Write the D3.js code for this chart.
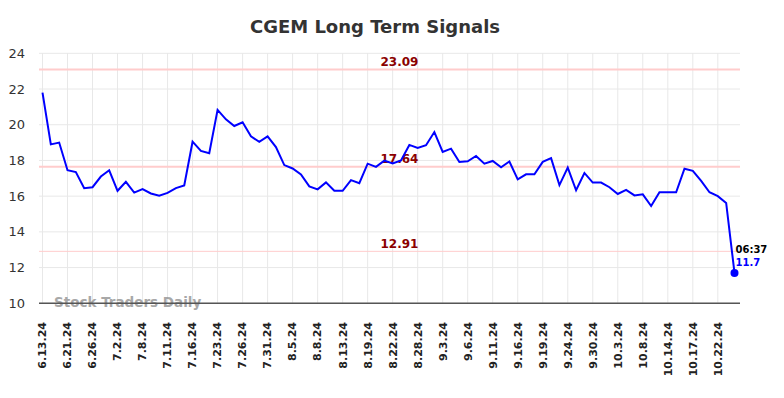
<!DOCTYPE html>
<html>
<head>
<meta charset="utf-8">
<script src="https://cdn.jsdelivr.net/npm/d3@7"></script>
<style>
  body { margin: 0; background: #fff; }
  svg { display: block; font-family: "DejaVu Sans", sans-serif; }
</style>
</head>
<body>
<svg id="chart" width="784" height="398"></svg>
<script>
// Tick labels (one every 3 trading days)
const tickLabels = ["6.13.24","6.21.24","6.26.24","7.2.24","7.8.24","7.11.24","7.16.24","7.23.24",
  "7.26.24","7.31.24","8.5.24","8.8.24","8.13.24","8.19.24","8.22.24","8.28.24","9.3.24","9.6.24",
  "9.11.24","9.16.24","9.19.24","9.24.24","9.30.24","10.3.24","10.8.24","10.14.24","10.17.24","10.22.24"];

// Closing prices, one per trading day
const prices = [21.8, 18.9, 19.0, 17.45, 17.35, 16.45, 16.5, 17.1, 17.45, 16.3,
  16.8, 16.2, 16.4, 16.15, 16.03, 16.18, 16.45, 16.6, 19.05, 18.53,
  18.4, 20.83, 20.3, 19.93, 20.14, 19.35, 19.04, 19.35, 18.75, 17.74,
  17.55, 17.22, 16.55, 16.38, 16.77, 16.3, 16.3, 16.9, 16.73, 17.82,
  17.64, 17.99, 17.83, 18.0, 18.87, 18.7, 18.85, 19.59, 18.48, 18.66,
  17.91, 17.95, 18.25, 17.82, 17.97, 17.62, 17.94, 16.94, 17.22, 17.22,
  17.92, 18.13, 16.62, 17.6, 16.33, 17.3, 16.76, 16.76, 16.5, 16.12,
  16.35, 16.04, 16.1, 15.45, 16.22, 16.22, 16.22, 17.54, 17.42, 16.85,
  16.22, 16.0, 15.62, 11.7];

// Signal levels
const levels = [23.09, 17.64, 12.91];
const levelWidths = [2, 2, 1];

const yTicks = [10, 12, 14, 16, 18, 20, 22, 24];
const lastTime = "06:37";

let svg = d3.select("#chart");

let x = d3.scaleLinear().domain([0, prices.length - 1]).range([42.5, 734.5]);
let y = d3.scaleLinear().domain([10, 24]).range([303.3, 53.3]);

// Title
svg.append("text")
  .attr("x", 375).attr("y", 33)
  .attr("text-anchor", "middle")
  .style("font-size", "18px").style("font-weight", "bold").style("fill", "#333")
  .text("CGEM Long Term Signals");

// Grid
svg.append("g").selectAll("line")
  .data(yTicks).enter()
  .append("line")
  .attr("x1", 39).attr("x2", 740)
  .attr("y1", (d) => y(d)).attr("y2", (d) => y(d))
  .style("stroke", "#e8e8e8").style("stroke-width", 1);

svg.append("g").selectAll("line")
  .data(tickLabels).enter()
  .append("line")
  .attr("x1", (d, i) => x(i * 3)).attr("x2", (d, i) => x(i * 3))
  .attr("y1", 53).attr("y2", 303)
  .style("stroke", "#e8e8e8").style("stroke-width", 1);

// Y labels
svg.append("g").selectAll("text")
  .data(yTicks).enter()
  .append("text")
  .attr("x", 25).attr("y", (d) => y(d))
  .attr("dy", "0.35em")
  .attr("text-anchor", "end")
  .style("font-size", "13px").style("fill", "#333")
  .text((d) => d);

// X labels
svg.append("g").selectAll("text")
  .data(tickLabels).enter()
  .append("text")
  .attr("transform", (d, i) => `translate(${x(i * 3)},322) rotate(-90)`)
  .attr("dy", "0.35em")
  .attr("text-anchor", "end")
  .style("font-size", "11px").style("font-weight", "bold").style("fill", "#222")
  .text((d) => d);

// Signal lines
svg.append("g").selectAll("line")
  .data(levels).enter()
  .append("line")
  .attr("x1", 39).attr("x2", 740)
  .attr("y1", (d) => y(d)).attr("y2", (d) => y(d))
  .style("stroke", "#ffcccc")
  .style("stroke-width", (d, i) => levelWidths[i]);

svg.append("g").selectAll("text")
  .data(levels).enter()
  .append("text")
  .attr("x", 399.5).attr("y", (d) => y(d) - 3.5)
  .attr("text-anchor", "middle")
  .style("font-size", "12px").style("font-weight", "bold").style("fill", "#8b0000")
  .text((d) => d.toFixed(2));

// Watermark
svg.append("text")
  .attr("x", 54).attr("y", 306.5)
  .style("font-size", "13.5px").style("font-weight", "bold").style("fill", "#999").style("opacity", 0.85)
  .text("Stock Traders Daily");

// Axis line
svg.append("line")
  .attr("x1", 39).attr("x2", 740)
  .attr("y1", y(10)).attr("y2", y(10))
  .style("stroke", "#555").style("stroke-width", 1.5);

// Price line
let line = d3.line()
  .x((d, i) => x(i))
  .y((d) => y(d));

svg.append("path")
  .datum(prices)
  .attr("d", line)
  .style("fill", "none").style("stroke", "#0000ff").style("stroke-width", 2);

// Last point
let last = prices.length - 1;
svg.append("circle")
  .attr("cx", x(last)).attr("cy", y(prices[last]))
  .attr("r", 4)
  .style("fill", "#0000ff");

svg.append("text")
  .attr("x", x(last) + 1).attr("y", 252.5)
  .style("font-size", "10px").style("font-weight", "bold").style("fill", "#000")
  .text(lastTime);

svg.append("text")
  .attr("x", x(last) + 1).attr("y", 265.5)
  .style("font-size", "10px").style("font-weight", "bold").style("fill", "#0000ff")
  .text(prices[last]);
</script>
</body>
</html>
